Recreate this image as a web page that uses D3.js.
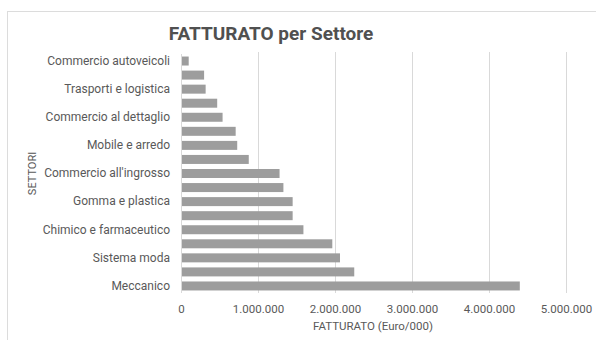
<!DOCTYPE html>
<html>
<head>
<meta charset="utf-8">
<script src="https://cdn.jsdelivr.net/npm/d3@7"></script>
<style>
  html, body { margin: 0; padding: 0; background: #fff; }
  svg { display: block; font-family: Roboto, "Liberation Sans", sans-serif; }
</style>
</head>
<body>
<svg id="chart" width="596" height="340"></svg>
<script>
// Sectors, top to bottom; every other one carries a visible label
const sectors = [
  "Commercio autoveicoli", "Editoria e stampa", "Trasporti e logistica", "Legno e carta",
  "Commercio al dettaglio", "Edilizia", "Mobile e arredo", "Servizi",
  "Commercio all'ingrosso", "Elettronica", "Gomma e plastica", "Metallurgico",
  "Chimico e farmaceutico", "Energia", "Sistema moda", "Alimentare", "Meccanico"
];
// Revenue in thousands of euro
const revenue = [
  100000, 300000, 320000, 470000,
  540000, 710000, 730000, 880000,
  1280000, 1330000, 1450000, 1450000,
  1590000, 1965000, 2065000, 2250000, 4400000
];
const labelledSectors = [
  "Commercio autoveicoli", "Trasporti e logistica", "Commercio al dettaglio",
  "Mobile e arredo", "Commercio all'ingrosso", "Gomma e plastica",
  "Chimico e farmaceutico", "Sistema moda", "Meccanico"
];
const xTicks = [0, 1000000, 2000000, 3000000, 4000000, 5000000];

const svg = d3.select("#chart");
const textColor = "#595959";

// chart frame
svg.append("rect")
  .attr("x", 7.5).attr("y", 11.5).attr("width", 600).attr("height", 340)
  .attr("fill", "#fff").attr("stroke", "#dcdcdc");

const x = d3.scaleLinear().domain([0, 5000000]).range([181, 566]);
const y = d3.scaleBand().domain(sectors).range([54, 293]).paddingInner(0.36).paddingOuter(0.18);

const fmt = d3.formatLocale({ decimal: ",", thousands: ".", grouping: [3], currency: ["€", ""] }).format(",d");

// vertical gridlines
svg.append("g")
  .selectAll("line").data(xTicks.slice(1)).join("line")
  .attr("x1", d => x(d) + 0.5).attr("x2", d => x(d) + 0.5)
  .attr("y1", 52).attr("y2", 293)
  .attr("stroke", "#d9d9d9").attr("stroke-width", 1);

// bars
svg.append("g")
  .selectAll("rect").data(sectors).join("rect")
  .attr("x", x(0) + 1)
  .attr("y", d => y(d))
  .attr("width", (d, i) => x(revenue[i]) - x(0) - 1)
  .attr("height", y.bandwidth())
  .attr("fill", "#9d9d9d");

// y axis line
svg.append("line")
  .attr("x1", 181.5).attr("x2", 181.5).attr("y1", 54).attr("y2", 293)
  .attr("stroke", "#d9d9d9");

// category labels
const yAxis = d3.axisLeft(y).tickValues(labelledSectors).tickSize(0).tickPadding(11);
const gy = svg.append("g").attr("transform", "translate(181,0)").call(yAxis);
gy.select(".domain").remove();
gy.selectAll("text").attr("fill", textColor).attr("font-size", 12)
  .attr("font-family", "Roboto, sans-serif");

// value axis
const xAxis = d3.axisBottom(x).tickValues(xTicks).tickSize(0).tickPadding(12).tickFormat(d => fmt(d));
const gx = svg.append("g").attr("transform", "translate(0,293)").call(xAxis);
gx.select(".domain").remove();
gx.selectAll("text").attr("fill", textColor).attr("font-size", 11.5)
  .attr("font-family", "Roboto, sans-serif");

// titles
svg.append("text")
  .attr("x", 271).attr("y", 40).attr("text-anchor", "middle")
  .attr("font-size", 19).attr("font-weight", "bold").attr("fill", "#505050")
  .text("FATTURATO per Settore");

svg.append("text")
  .attr("x", 373).attr("y", 330).attr("text-anchor", "middle")
  .attr("font-size", 11.5).attr("fill", textColor)
  .text("FATTURATO (Euro/000)");

svg.append("text")
  .attr("transform", "translate(36,173.5) rotate(-90)")
  .attr("text-anchor", "middle")
  .attr("font-size", 11).attr("fill", textColor)
  .text("SETTORI");
</script>
</body>
</html>
